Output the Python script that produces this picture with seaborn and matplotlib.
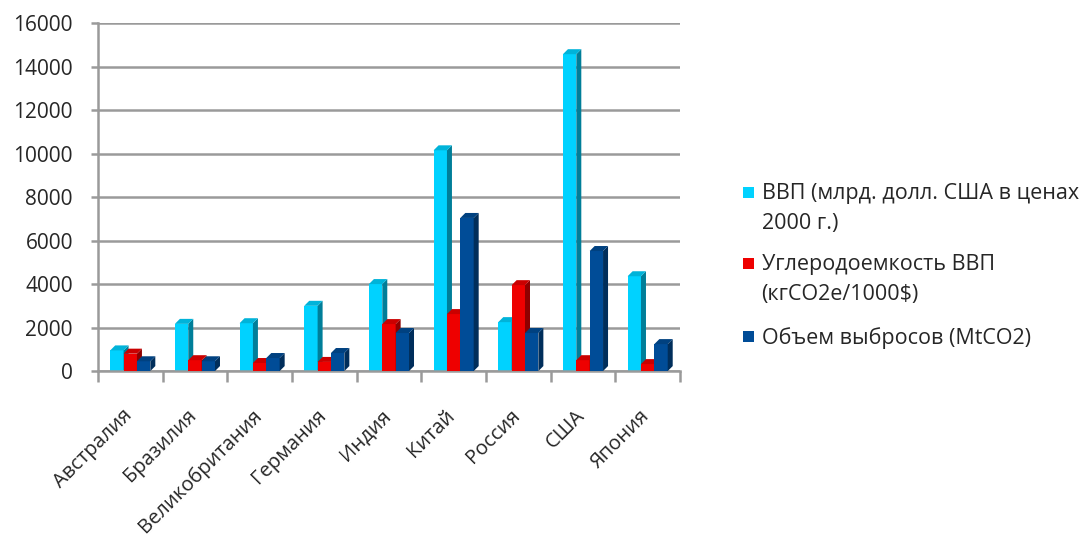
import numpy as np
import pandas as pd
import matplotlib
matplotlib.use("Agg")
import matplotlib.pyplot as plt
import seaborn as sns
from matplotlib.patches import Polygon, Rectangle
from matplotlib.colors import to_rgb
from matplotlib.transforms import IdentityTransform, ScaledTranslation

countries = ["Австралия", "Бразилия", "Великобритания", "Германия", "Индия",
             "Китай", "Россия", "США", "Япония"]
series = ["ВВП (млрд. долл. США в ценах\n2000 г.)",
          "Углеродоемкость ВВП\n(кгCO2e/1000$)",
          "Объем выбросов (MtCO2)"]
gdp = [950, 2170, 2200, 3000, 4000, 10150, 2250, 14570, 4360]
intensity = [800, 500, 370, 420, 2160, 2620, 3950, 500, 320]
emissions = [450, 450, 600, 830, 1750, 7040, 1750, 5520, 1240]
colors = ["#00D2FF", "#EE0000", "#004C97"]

df = pd.DataFrame({
    "country": countries * 3,
    "series": np.repeat(series, len(countries)),
    "value": gdp + intensity + emissions,
})

sns.set_style("white")
plt.rcParams["font.family"] = ["Open Sans", "DejaVu Sans"]

fig = plt.figure(figsize=(10.88, 5.37), dpi=100)
ax = fig.add_axes([0.09, 0.309, 0.535, 0.648])

sns.barplot(data=df, x="country", y="value", hue="series", palette=colors,
            width=0.62, gap=0.0, ax=ax, legend=False, saturation=1)

n = len(countries)
ax.set_ylim(0, 16000)
ax.set_xlim(-0.5, n - 0.5)
ax.set_yticks(range(0, 16001, 2000))
ax.yaxis.grid(True, color="#9a9a9a", linewidth=1.8)
ax.set_axisbelow(True)
ax.set_xlabel("")
ax.set_ylabel("")
for side in ["top", "right"]:
    ax.spines[side].set_visible(False)
for side in ["left", "bottom"]:
    ax.spines[side].set_color("#9a9a9a")
    ax.spines[side].set_linewidth(1.8)

ax.tick_params(axis="y", labelsize=15, length=5, width=1.8, color="#9a9a9a",
               direction="out", left=True, pad=13)
ax.set_xticks(range(n))
ax.set_xticklabels(countries, rotation=45, ha="right", rotation_mode="anchor",
                   fontsize=14.5)
ax.tick_params(axis="x", length=0, pad=25)
shift = ScaledTranslation(-6 / 72, 0, fig.dpi_scale_trans)
for lbl in ax.get_xticklabels():
    lbl.set_transform(lbl.get_transform() + shift)
ax.set_xticks(np.arange(-0.5, n, 1), minor=True)
ax.tick_params(axis="x", which="minor", length=8, width=1.8, color="#9a9a9a",
               bottom=True, direction="out")

# pseudo-3D: side and top faces derived from the seaborn bar patches
d = 5
for i, bar in enumerate(list(ax.patches)):
    z = 2 + i // n
    bar.set_edgecolor("none")
    bar.set_zorder(z)
    rgb = np.array(to_rgb(bar.get_facecolor()))
    x0, y0 = ax.transData.transform((bar.get_x(), 0))
    x1, y1 = ax.transData.transform((bar.get_x() + bar.get_width(), bar.get_height()))
    side_face = Polygon([(x1, y0), (x1, y1), (x1 + d, y1 + d), (x1 + d, y0 + d)],
                        closed=True, facecolor=rgb * 0.6, edgecolor="none",
                        transform=IdentityTransform(), zorder=z + 0.5, clip_on=False)
    top_face = Polygon([(x0, y1), (x1, y1), (x1 + d, y1 + d), (x0 + d, y1 + d)],
                       closed=True, facecolor=rgb * 0.85, edgecolor="none",
                       transform=IdentityTransform(), zorder=z + 0.5, clip_on=False)
    ax.add_artist(side_face)
    ax.add_artist(top_face)

# legend: square next to the first line of each label
legend_y = [0.642, 0.510, 0.374]
line_gap = 0.054
for lab, col, ly in zip(series, colors, legend_y):
    fig.patches.append(Rectangle((0.683, ly - 0.0105), 0.0101, 0.0205,
                                 transform=fig.transFigure, facecolor=col,
                                 edgecolor="none"))
    extra = lab.count("\n") * line_gap
    fig.text(0.700, ly - 0.014 - extra, lab, va="baseline", ha="left",
             fontsize=15.5, linespacing=1.55)

fig.savefig("out.png", dpi=100)
